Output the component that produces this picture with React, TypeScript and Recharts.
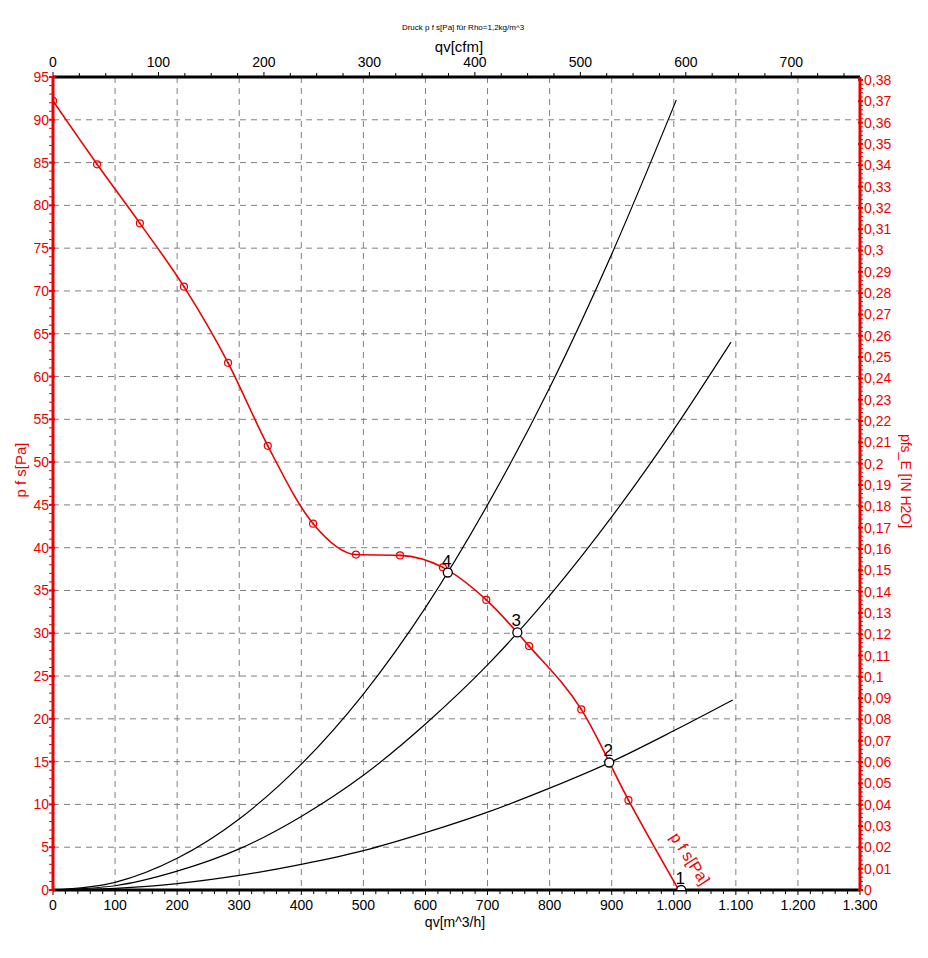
import { ComposedChart, Line, Scatter, XAxis, YAxis, CartesianGrid } from 'recharts';

const RED = '#ee0000';
const FONT = "'Liberation Sans', Arial, sans-serif";

// fan curve p f s [Pa] over q v [m^3/h]
const fanFlow = [0, 71, 140, 211, 282, 346, 419, 488, 559, 628, 698, 767, 851, 927, 1008];
const fanPressure = [92.2, 84.8, 77.9, 70.5, 61.6, 51.9, 42.8, 39.2, 39.1, 37.7, 33.9, 28.5, 21.1, 10.5, 0];

// system curves (black)
const sysAFlow = [0, 100, 200, 300, 400, 500, 600, 700, 800, 900, 1004];
const sysAPressure = [0, 0.9, 3.7, 8.3, 14.7, 22.9, 33, 45, 58.7, 74.3, 92.3];
const sysBFlow = [0, 100, 200, 300, 400, 500, 600, 700, 800, 900, 1000, 1092];
const sysBPressure = [0, 0.5, 2.2, 4.8, 8.6, 13.4, 19.4, 26.3, 34.4, 43.6, 53.8, 64];
const sysCFlow = [0, 100, 200, 300, 400, 500, 600, 700, 800, 900, 1000, 1095];
const sysCPressure = [0, 0.2, 0.75, 1.7, 3, 4.6, 6.7, 9.1, 11.9, 15, 18.6, 22.2];

// operating points
const opFlow = [1012, 896, 748, 636];
const opPressure = [0, 14.9, 30.1, 37.1];
const opLabels = ['1', '2', '3', '4'];

// ticks
const flowTicks = Array.from({ length: 66 }, (_, i) => i * 20);
const cfmTicks = Array.from({ length: 31 }, (_, i) => i * 25);
const paTicks = Array.from({ length: 96 }, (_, i) => i);
const inchTicks = Array.from({ length: 191 }, (_, i) => Number((i * 0.002).toFixed(3)));
const flowGrid = [100, 200, 300, 400, 500, 600, 700, 800, 900, 1000, 1100, 1200];
const paGrid = [5, 10, 15, 20, 25, 30, 35, 40, 45, 50, 55, 60, 65, 70, 75, 80, 85, 90];

const CFM = 1.699; // m^3/h per cfm

const zip = (xs: number[], ys: number[]) => xs.map((x, i) => ({ x, y: ys[i] }));
const fanData = zip(fanFlow, fanPressure);
const fanCfm = zip(fanFlow.map((v) => v / CFM), fanPressure);
const sysA = zip(sysAFlow, sysAPressure);
const sysB = zip(sysBFlow, sysBPressure);
const sysC = zip(sysCFlow, sysCPressure);
const opData = opFlow.map((x, i) => ({ x, y: opPressure[i], label: opLabels[i] }));
const curveLabel = [{ x: 993, y: 6.2 }];

const fmtFlow = (v: number) => (v >= 1000 ? `${Math.floor(v / 1000)}.${String(v % 1000).padStart(3, '0')}` : `${v}`);
const fmtInch = (v: number) => (v === 0 ? '0' : String(Number(v.toFixed(2))).replace('.', ','));

const BottomTick = (p: any) => {
  const major = p.payload.value % 100 === 0;
  return (
    <g>
      <line x1={p.x} x2={p.x} y1={p.y} y2={p.y + (major ? 5 : 4)} stroke="#000" strokeWidth={1} />
      {major && (
        <text x={p.x} y={p.y + 20} textAnchor="middle" fontSize={14} fontFamily={FONT} fill="#000">
          {fmtFlow(p.payload.value)}
        </text>
      )}
    </g>
  );
};

const TopTick = (p: any) => {
  const major = p.payload.value % 100 === 0;
  return (
    <g>
      <line x1={p.x} x2={p.x} y1={p.y} y2={p.y - (major ? 5 : 4)} stroke="#000" strokeWidth={1} />
      {major && (
        <text x={p.x} y={p.y - 10} textAnchor="middle" fontSize={14} fontFamily={FONT} fill="#000">
          {p.payload.value}
        </text>
      )}
    </g>
  );
};

const LeftTick = (p: any) => {
  const major = p.payload.value % 5 === 0;
  return (
    <g>
      <line x1={p.x - 4} x2={p.x + (major ? 2 : 0)} y1={p.y} y2={p.y} stroke={RED} strokeWidth={major ? 2 : 1} />
      {major && (
        <text x={p.x - 4} y={p.y + 5} textAnchor="end" fontSize={14} fontFamily={FONT} fill={RED}>
          {p.payload.value}
        </text>
      )}
    </g>
  );
};

const RightTick = (p: any) => {
  const major = Math.round(p.payload.value * 1000) % 10 === 0;
  return (
    <g>
      <line x1={p.x - (major ? 2 : 0)} x2={p.x + 3} y1={p.y} y2={p.y} stroke={RED} strokeWidth={major ? 2 : 1} />
      {major && (
        <text x={p.x + 4} y={p.y + 5} textAnchor="start" fontSize={14} fontFamily={FONT} fill={RED}>
          {fmtInch(p.payload.value)}
        </text>
      )}
    </g>
  );
};

const FanDot = (p: any) => {
  if (p.index === fanData.length - 1) return <g key={p.index} />;
  return (
    <g key={p.index}>
      <circle cx={p.cx} cy={p.cy} r={3.5} fill="none" stroke={RED} strokeWidth={1.2} />
      <circle cx={p.cx} cy={p.cy} r={0.9} fill={RED} />
    </g>
  );
};

const OpPoint = (p: any) => (
  <g>
    <circle cx={p.cx} cy={p.cy} r={4.5} fill="#fff" stroke="#000" strokeWidth={1.3} />
    <text x={p.cx - 1} y={p.cy - 6} textAnchor="middle" fontSize={17} fontFamily={FONT} fill="#000">
      {p.payload.label}
    </text>
  </g>
);

const CurveName = (p: any) => (
  <text
    x={p.cx}
    y={p.cy}
    fontSize={16}
    fontFamily={FONT}
    fill={RED}
    transform={`rotate(57 ${p.cx} ${p.cy})`}
  >
    p f s[Pa]
  </text>
);

const abs = (left: number, top: number, extra: any = {}) => ({
  position: 'absolute' as const,
  left,
  top,
  transform: 'translate(-50%, -50%)',
  whiteSpace: 'nowrap' as const,
  fontFamily: FONT,
  ...extra,
});

export default function App() {
  return (
    <div style={{ position: 'absolute', left: 0, top: 0, width: 928, height: 958, background: '#fff' }}>
      <div style={abs(463, 27, { fontSize: 8 })}>Druck p f s[Pa] für Rho=1,2kg/m^3</div>
      <div style={abs(459, 46, { fontSize: 15 })}>qv[cfm]</div>
      <div style={abs(455, 922, { fontSize: 14 })}>qv[m^3/h]</div>
      <div style={abs(20, 470, { fontSize: 15, color: RED, transform: 'translate(-50%, -50%) rotate(-90deg)' })}>
        p f s[Pa]
      </div>
      <div style={abs(906, 481, { fontSize: 14, color: RED, transform: 'translate(-50%, -50%) rotate(90deg)' })}>
        pfs_E [IN H2O]
      </div>
      <ComposedChart width={928} height={958} margin={{ top: 57, right: 18, bottom: 48, left: 23 }}>
        <CartesianGrid
          stroke="#808080"
          strokeDasharray="6 5"
          verticalValues={flowGrid}
          horizontalValues={paGrid}
        />
        <XAxis
          dataKey="x"
          type="number"
          domain={[0, 1300]}
          allowDataOverflow
          ticks={flowTicks}
          interval={0}
          height={20}
          tickSize={0}
          tickMargin={0}
          tickLine={false}
          tick={BottomTick}
          axisLine={{ stroke: '#000', strokeWidth: 3 }}
        />
        <XAxis
          xAxisId="cfm"
          dataKey="x"
          orientation="top"
          type="number"
          domain={[0, 1300 / CFM]}
          allowDataOverflow
          ticks={cfmTicks}
          interval={0}
          height={20}
          tickSize={0}
          tickMargin={0}
          tickLine={false}
          tick={TopTick}
          axisLine={{ stroke: '#000', strokeWidth: 3 }}
        />
        <YAxis
          dataKey="y"
          type="number"
          domain={[0, 95]}
          allowDataOverflow
          ticks={paTicks}
          interval={0}
          width={30}
          tickSize={0}
          tickMargin={0}
          tickLine={false}
          tick={LeftTick}
          axisLine={{ stroke: RED, strokeWidth: 3 }}
        />
        <YAxis
          yAxisId="inch"
          orientation="right"
          type="number"
          domain={[0, 95 / 249.09]}
          allowDataOverflow
          ticks={inchTicks}
          interval={0}
          width={50}
          tickSize={0}
          tickMargin={0}
          tickLine={false}
          tick={RightTick}
          axisLine={{ stroke: RED, strokeWidth: 3 }}
        />
        {/* same fan curve in cfm, invisible, so the top axis is bound to a series */}
        <Line
          xAxisId="cfm"
          data={fanCfm}
          dataKey="y"
          type="monotone"
          stroke="none"
          dot={false}
          activeDot={false}
          isAnimationActive={false}
        />
        <Line data={sysA} dataKey="y" type="monotone" stroke="#000" strokeWidth={1.2} dot={false} isAnimationActive={false} />
        <Line data={sysB} dataKey="y" type="monotone" stroke="#000" strokeWidth={1.2} dot={false} isAnimationActive={false} />
        <Line data={sysC} dataKey="y" type="monotone" stroke="#000" strokeWidth={1.2} dot={false} isAnimationActive={false} />
        <Line
          data={fanData}
          dataKey="y"
          type="monotone"
          stroke={RED}
          strokeWidth={1.6}
          dot={FanDot}
          isAnimationActive={false}
        />
        <Scatter data={opData} dataKey="y" shape={OpPoint} isAnimationActive={false} />
        <Scatter data={curveLabel} dataKey="y" shape={CurveName} isAnimationActive={false} />
      </ComposedChart>
    </div>
  );
}
